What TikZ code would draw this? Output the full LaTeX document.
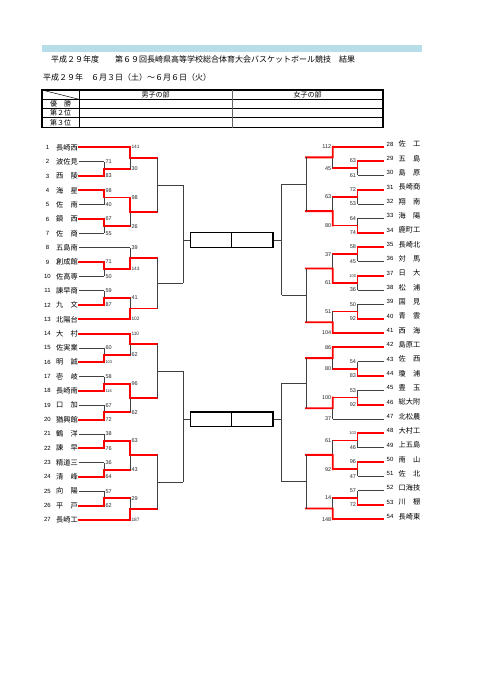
\documentclass[tikz,border=0pt]{standalone}
\usepackage{fontspec}
\newfontfamily\jp{Noto Sans CJK JP}
\newfontfamily\lsans{Liberation Sans}
\usetikzlibrary{calc}
\definecolor{barblue}{RGB}{183,221,232}
\newcommand\smf{\fontsize{4}{4}\selectfont}
\newcommand\mdf{\fontsize{4.8}{5}\selectfont}
% left match: #1 out, #2 top feeder, #3 bottom feeder, #4 X, #5 winner, #6 next X, #7 top score, #8 bottom score
\newcommand\lmatch[8]{%
  \draw[bl] (#4 |- #2) -- (#4 |- #3);
  \coordinate (#1) at ($(#4 |- #2)!.5!(#4 |- #3)$);
  \draw[rd] (#4 |- #5) -- (#1) -- (#6 |- #1);
  \node[sc,anchor=west] at ($(#4 |- #2)+(1.3,0)$) {#7};
  \node[sc,anchor=west] at ($(#4 |- #3)+(1.3,0)$) {#8};
}
\newcommand\rmatch[8]{%
  \draw[bl] (#4 |- #2) -- (#4 |- #3);
  \coordinate (#1) at ($(#4 |- #2)!.5!(#4 |- #3)$);
  \draw[rd] (#4 |- #5) -- (#1) -- (#6 |- #1);
  \node[sc,anchor=east] at ($(#4 |- #2)+(-1.3,0)$) {#7};
  \node[sc,anchor=east] at ($(#4 |- #3)+(-1.3,0)$) {#8};
}
% undecided match: #1 out, #2 top, #3 bottom, #4 X, #5 next X
\newcommand\openmatch[5]{%
  \draw[bl] (#4 |- #2) -- (#4 |- #3);
  \coordinate (#1) at ($(#4 |- #2)!.5!(#4 |- #3)$);
  \draw[bl] (#1) -- (#5 |- #1);
}
\begin{document}
\begin{tikzpicture}[x=1pt,y=-1pt,
  bl/.style={draw=black!75,line width=0.7pt},
  rd/.style={draw=red,line width=1.9pt,line cap=rect},
  sc/.style={font=\lsans\fontsize{5.5}{6}\selectfont,inner sep=0pt,text=black!85},
  tnum/.style={font=\lsans\fontsize{6}{6}\selectfont,inner sep=0pt},
  tname/.style={font=\jp\fontsize{7.2}{7.2}\selectfont,inner sep=0pt,anchor=west},
  cell/.style={draw,line width=1.3pt,minimum height=14.6pt,inner sep=0pt},
  ttxt/.style={font=\jp\fontsize{7}{7}\selectfont,inner sep=0pt},
  htxt/.style={font=\jp\fontsize{8}{8}\selectfont,inner sep=0pt,anchor=west}]
\fill[white] (0,0) rectangle (481,680);
\useasboundingbox (0,0) rectangle (481,680);

% header
\fill[barblue] (42,45) rectangle (422,52.3);
\node[htxt] (title) at (51,59.5) {平成２９年度　　第６９回長崎県高等学校総合体育大会バスケットボール競技　結果};
\node[htxt] (date) at (43,77) {平成２９年　６月３日（土）～６月６日（火）};

% result table
\draw[line width=1.2pt] (42,90) rectangle (383,127.7);
\draw[line width=0.9pt] (42,99.3) -- (383,99.3);
\draw[line width=0.6pt] (42,108.3) -- (383,108.3) (42,117.7) -- (383,117.7);
\draw[line width=1.0pt] (79,90) -- (79,127.7);
\draw[line width=0.9pt,black!60] (232,90) -- (232,127.7);
\draw[line width=0.5pt] (42,90) -- (79,99.3);
\node[ttxt] (boys) at (155.5,94.8) {男子の部};
\node[ttxt] (girls) at (307.5,94.8) {女子の部};
\node[ttxt] (r1) at (60.5,103.9) {優　勝};
\node[ttxt] (r2) at (60.5,113.1) {第２位};
\node[ttxt] (r3) at (60.5,122.8) {第３位};

% x levels
\coordinate (LX1) at (104,0);
\coordinate (LX2) at (130,0);
\coordinate (LX3) at (157,0);
\coordinate (LX4) at (183,0);
\coordinate (RX1) at (357.5,0);
\coordinate (RX2) at (332.7,0);
\coordinate (RX3) at (306,0);
\coordinate (RX4) at (281.7,0);

% left teams
\foreach \k/\nm in {1/長崎西,2/波佐見,3/西　陵,4/海　星,5/佐　南,6/鎮　西,7/佐　商,8/五島南,9/創成館,10/佐高専,11/諫早商,12/九　文,13/北陽台,14/大　村,15/佐実業,16/明　誠,17/壱　岐,18/長崎南,19/口　加,20/猶興館,21/鶴　洋,22/諫　早,23/精道三,24/清　峰,25/向　陽,26/平　戸,27/長崎工}{
  \pgfmathsetmacro\yy{147.3+(\k-1)*14.33}
  \coordinate (a\k) at (79,\yy);
  \node[tnum] (na\k) at (47.5,\yy) {\k};
  \node[tname] (ta\k) at (56,\yy) {\nm};
}
% right teams
\foreach \k/\nm in {28/佐　工,29/五　島,30/島　原,31/長崎商,32/翔　南,33/海　陽,34/鹿町工,35/長崎北,36/対　馬,37/日　大,38/松　浦,39/国　見,40/青　雲,41/西　海,42/島原工,43/佐　西,44/瓊　浦,45/豊　玉,46/総大附,47/北松農,48/大村工,49/上五島,50/南　山,51/佐　北,52/口海技,53/川　棚,54/長崎東}{
  \pgfmathsetmacro\yy{146.7+(\k-28)*14.33}
  \coordinate (b\k) at (383.5,\yy);
  \node[tnum] (nb\k) at (390,\yy-2.7) {\k};
  \node[tname] (tb\k) at (398.5,\yy-2.7) {\nm};
}

% team lines
\foreach \k in {2,5,7,10,11,15,17,19,21,23,25} \draw[bl] (a\k) -- (LX1 |- a\k);
\foreach \k in {8} \draw[bl] (a\k) -- (LX2 |- a\k);
\foreach \k in {3,4,6,9,12,16,18,20,22,24,26} \draw[rd] (a\k) -- (LX1 |- a\k);
\foreach \k in {1,13,14,27} \draw[rd] (a\k) -- (LX2 |- a\k);
\foreach \k in {30,32,33,36,38,39,43,45,49,51,52} \draw[bl] (b\k) -- (RX1 |- b\k);
\foreach \k in {47} \draw[bl] (b\k) -- (RX2 |- b\k);
\foreach \k in {29,31,34,35,37,40,44,46,48,50,53} \draw[rd] (b\k) -- (RX1 |- b\k);
\foreach \k in {28,41,42,54} \draw[rd] (b\k) -- (RX2 |- b\k);

% left round 1
\lmatch{m23}{a2}{a3}{LX1}{a3}{LX2}{71}{83}
\lmatch{m45}{a4}{a5}{LX1}{a4}{LX2}{98}{40}
\lmatch{m67}{a6}{a7}{LX1}{a6}{LX2}{67}{55}
\lmatch{m910}{a9}{a10}{LX1}{a9}{LX2}{71}{50}
\lmatch{m1112}{a11}{a12}{LX1}{a12}{LX2}{59}{87}
\lmatch{m1516}{a15}{a16}{LX1}{a16}{LX2}{60}{\smf 103}
\lmatch{m1718}{a17}{a18}{LX1}{a18}{LX2}{58}{\smf 116}
\lmatch{m1920}{a19}{a20}{LX1}{a20}{LX2}{67}{72}
\lmatch{m2122}{a21}{a22}{LX1}{a22}{LX2}{38}{76}
\lmatch{m2324}{a23}{a24}{LX1}{a24}{LX2}{36}{64}
\lmatch{m2526}{a25}{a26}{LX1}{a26}{LX2}{57}{62}
% left round 2
\lmatch{p1}{a1}{m23}{LX2}{a1}{LX3}{\mdf 141}{30}
\lmatch{p2}{m45}{m67}{LX2}{m45}{LX3}{98}{26}
\lmatch{p3}{a8}{m910}{LX2}{m910}{LX3}{39}{\mdf 143}
\lmatch{p4}{m1112}{a13}{LX2}{a13}{LX3}{41}{\mdf 102}
\lmatch{p5}{a14}{m1516}{LX2}{a14}{LX3}{\mdf 110}{62}
\lmatch{p6}{m1718}{m1920}{LX2}{m1718}{LX3}{96}{62}
\lmatch{p7}{m2122}{m2324}{LX2}{m2122}{LX3}{63}{43}
\lmatch{p8}{m2526}{a27}{LX2}{a27}{LX3}{29}{\mdf 187}
% left round 3
\openmatch{q1}{p1}{p2}{LX3}{LX4}
\openmatch{q2}{p3}{p4}{LX3}{LX4}
\openmatch{q3}{p5}{p6}{LX3}{LX4}
\openmatch{q4}{p7}{p8}{LX3}{LX4}

% right round 1
\rmatch{n2930}{b29}{b30}{RX1}{b29}{RX2}{63}{61}
\rmatch{n3132}{b31}{b32}{RX1}{b31}{RX2}{72}{53}
\rmatch{n3334}{b33}{b34}{RX1}{b34}{RX2}{64}{74}
\rmatch{n3536}{b35}{b36}{RX1}{b35}{RX2}{58}{45}
\rmatch{n3738}{b37}{b38}{RX1}{b37}{RX2}{\smf 100}{36}
\rmatch{n3940}{b39}{b40}{RX1}{b40}{RX2}{50}{92}
\rmatch{n4344}{b43}{b44}{RX1}{b44}{RX2}{54}{83}
\rmatch{n4546}{b45}{b46}{RX1}{b46}{RX2}{53}{92}
\rmatch{n4849}{b48}{b49}{RX1}{b48}{RX2}{\smf 103}{46}
\rmatch{n5051}{b50}{b51}{RX1}{b50}{RX2}{96}{47}
\rmatch{n5253}{b52}{b53}{RX1}{b53}{RX2}{57}{72}
% right round 2
\rmatch{r1}{b28}{n2930}{RX2}{b28}{RX3}{112}{45}
\rmatch{r2}{n3132}{n3334}{RX2}{n3334}{RX3}{63}{80}
\rmatch{r3}{n3536}{n3738}{RX2}{n3738}{RX3}{37}{61}
\rmatch{r4}{n3940}{b41}{RX2}{b41}{RX3}{51}{104}
\rmatch{r5}{b42}{n4344}{RX2}{b42}{RX3}{86}{80}
\rmatch{r6}{n4546}{b47}{RX2}{n4546}{RX3}{100}{37}
\rmatch{r7}{n4849}{n5051}{RX2}{n5051}{RX3}{61}{92}
\rmatch{r8}{n5253}{b54}{RX2}{b54}{RX3}{14}{148}
% right round 3
\openmatch{s1}{r1}{r2}{RX3}{RX4}
\openmatch{s2}{r3}{r4}{RX3}{RX4}
\openmatch{s3}{r5}{r6}{RX3}{RX4}
\openmatch{s4}{r7}{r8}{RX3}{RX4}

% final boxes
\node[cell,minimum width=41pt] (bxa) at (211.2,240) {};
\node[cell,minimum width=41.3pt] (bxb) at (252.35,240) {};
\node[cell,minimum width=41pt] (bxc) at (211.2,419.3) {};
\node[cell,minimum width=41.3pt] (bxd) at (252.35,419.3) {};

\draw[bl] (LX4 |- q1) -- (LX4 |- q2);
\draw[bl] (LX4 |- bxa.west) -- (bxa.west);
\draw[bl] (LX4 |- q3) -- (LX4 |- q4);
\draw[bl] (LX4 |- bxc.west) -- (bxc.west);
\draw[bl] (RX4 |- s1) -- (RX4 |- s2);
\draw[bl] (bxb.east) -- (RX4 |- bxb.east);
\draw[bl] (RX4 |- s3) -- (RX4 |- s4);
\draw[bl] (bxd.east) -- (RX4 |- bxd.east);
\end{tikzpicture}
\end{document}
